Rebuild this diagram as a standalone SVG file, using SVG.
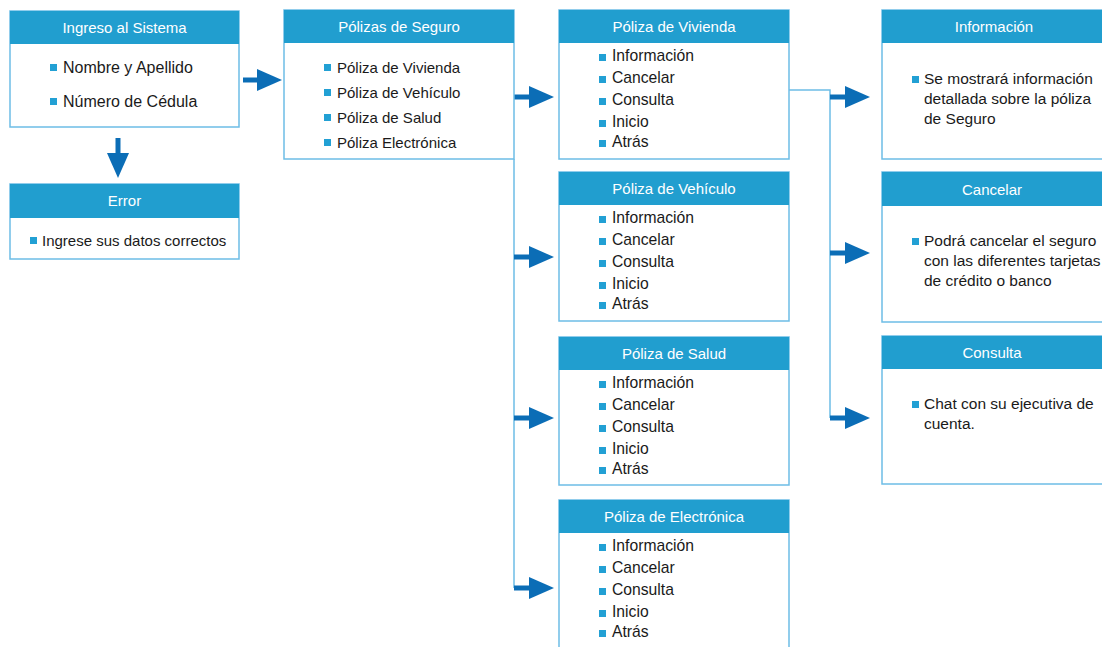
<svg xmlns="http://www.w3.org/2000/svg" width="1102" height="647" viewBox="0 0 1102 647">
<style>
.box{fill:#fff;stroke:#6dbde6;stroke-width:1.5}
.hdr{fill:#219ecf}
.ht{font-family:"Liberation Sans",Arial,sans-serif;font-size:15px;fill:#fff;text-anchor:middle}
.t{font-family:"Liberation Sans",Arial,sans-serif;font-size:15px;fill:#1a1a1a}
.t16{font-size:16px}
.tp{font-size:15.7px}
.tr{font-size:15.5px}
.b{fill:#22a0d4}
.thin{fill:none;stroke:#6dbde6;stroke-width:1.5}
.arr{fill:none;stroke:#0b6db6;stroke-width:5;marker-end:url(#ah)}
</style>
<defs>
<marker id="ah" markerUnits="userSpaceOnUse" markerWidth="26" markerHeight="24" refX="0" refY="11" orient="auto">
<path d="M0,0 L25,11 L0,22 z" fill="#0b6db6"/>
</marker>
</defs>
<rect width="1102" height="647" fill="#fff"/>

<g id="connectors">
<path class="thin" d="M514,159 V588"/>
<path class="thin" d="M789,90 H830 V418"/>
<path class="arr" d="M243,80 H257"/>
<path class="arr" d="M118,138 V153"/>
<path class="arr" d="M514,97 H529"/>
<path class="arr" d="M514,257 H529"/>
<path class="arr" d="M514,418 H529"/>
<path class="arr" d="M514,588 H529"/>
<path class="arr" d="M830,97 H845"/>
<path class="arr" d="M830,253 H845"/>
<path class="arr" d="M830,418 H845"/>
</g>

<g id="ingreso">
<rect class="box" x="10" y="11" width="229" height="116"/>
<rect class="hdr" x="10" y="11" width="229" height="33"/>
<text class="ht" x="124.5" y="33">Ingreso al Sistema</text>
<rect class="b" x="50" y="64" width="7" height="7"/><text class="t t16" x="63" y="73">Nombre y Apellido</text>
<rect class="b" x="50" y="98" width="7" height="7"/><text class="t t16" x="63" y="107">Número de Cédula</text>
</g>

<g id="error">
<rect class="box" x="10" y="184" width="229" height="75"/>
<rect class="hdr" x="10" y="184" width="229" height="34"/>
<text class="ht" x="124.5" y="206">Error</text>
<rect class="b" x="30" y="237" width="7" height="7"/><text class="t" x="42" y="246">Ingrese sus datos correctos</text>
</g>

<g id="polizas">
<rect class="box" x="284" y="10" width="230" height="149"/>
<rect class="hdr" x="284" y="10" width="230" height="33"/>
<text class="ht" x="399" y="32">Pólizas de Seguro</text>
<rect class="b" x="324" y="64" width="7" height="7"/><text class="t" x="337" y="73">Póliza de Vivienda</text>
<rect class="b" x="324" y="89" width="7" height="7"/><text class="t" x="337" y="98">Póliza de Vehículo</text>
<rect class="b" x="324" y="114" width="7" height="7"/><text class="t" x="337" y="123">Póliza de Salud</text>
<rect class="b" x="324" y="139" width="7" height="7"/><text class="t" x="337" y="148">Póliza Electrónica</text>
</g>

<g id="vivienda">
<rect class="box" x="559" y="10" width="230" height="149"/>
<rect class="hdr" x="559" y="10" width="230" height="33"/>
<text class="ht" x="674" y="32">Póliza de Vivienda</text>
<rect class="b" x="599" y="54" width="7" height="7"/><text class="t tp" x="612" y="61">Información</text>
<rect class="b" x="599" y="76" width="7" height="7"/><text class="t tp" x="612" y="83">Cancelar</text>
<rect class="b" x="599" y="98" width="7" height="7"/><text class="t tp" x="612" y="105">Consulta</text>
<rect class="b" x="599" y="120" width="7" height="7"/><text class="t tp" x="612" y="127">Inicio</text>
<rect class="b" x="599" y="140" width="7" height="7"/><text class="t tp" x="612" y="147">Atrás</text>
</g>

<g id="vehiculo">
<rect class="box" x="559" y="172" width="230" height="149"/>
<rect class="hdr" x="559" y="172" width="230" height="33"/>
<text class="ht" x="674" y="194">Póliza de Vehículo</text>
<rect class="b" x="599" y="216" width="7" height="7"/><text class="t tp" x="612" y="223">Información</text>
<rect class="b" x="599" y="238" width="7" height="7"/><text class="t tp" x="612" y="245">Cancelar</text>
<rect class="b" x="599" y="260" width="7" height="7"/><text class="t tp" x="612" y="267">Consulta</text>
<rect class="b" x="599" y="282" width="7" height="7"/><text class="t tp" x="612" y="289">Inicio</text>
<rect class="b" x="599" y="302" width="7" height="7"/><text class="t tp" x="612" y="309">Atrás</text>
</g>

<g id="salud">
<rect class="box" x="559" y="337" width="230" height="148"/>
<rect class="hdr" x="559" y="337" width="230" height="33"/>
<text class="ht" x="674" y="359">Póliza de Salud</text>
<rect class="b" x="599" y="381" width="7" height="7"/><text class="t tp" x="612" y="388">Información</text>
<rect class="b" x="599" y="403" width="7" height="7"/><text class="t tp" x="612" y="410">Cancelar</text>
<rect class="b" x="599" y="425" width="7" height="7"/><text class="t tp" x="612" y="432">Consulta</text>
<rect class="b" x="599" y="447" width="7" height="7"/><text class="t tp" x="612" y="454">Inicio</text>
<rect class="b" x="599" y="467" width="7" height="7"/><text class="t tp" x="612" y="474">Atrás</text>
</g>

<g id="electronica">
<rect class="box" x="559" y="500" width="230" height="160"/>
<rect class="hdr" x="559" y="500" width="230" height="33"/>
<text class="ht" x="674" y="522">Póliza de Electrónica</text>
<rect class="b" x="599" y="544" width="7" height="7"/><text class="t tp" x="612" y="551">Información</text>
<rect class="b" x="599" y="566" width="7" height="7"/><text class="t tp" x="612" y="573">Cancelar</text>
<rect class="b" x="599" y="588" width="7" height="7"/><text class="t tp" x="612" y="595">Consulta</text>
<rect class="b" x="599" y="610" width="7" height="7"/><text class="t tp" x="612" y="617">Inicio</text>
<rect class="b" x="599" y="630" width="7" height="7"/><text class="t tp" x="612" y="637">Atrás</text>
</g>

<g id="informacion">
<rect class="box" x="882" y="10" width="224" height="149"/>
<rect class="hdr" x="882" y="10" width="224" height="33"/>
<text class="ht" x="994" y="32">Información</text>
<rect class="b" x="912" y="76" width="7" height="7"/>
<text class="t tr" x="924" y="84">Se mostrará información</text>
<text class="t tr" x="924" y="104">detallada sobre la póliza</text>
<text class="t tr" x="924" y="124">de Seguro</text>
</g>

<g id="cancelar">
<rect class="box" x="882" y="172" width="224" height="150"/>
<rect class="hdr" x="882" y="172" width="224" height="34"/>
<text class="ht" x="992" y="195">Cancelar</text>
<rect class="b" x="912" y="238" width="7" height="7"/>
<text class="t tr" x="924" y="246">Podrá cancelar el seguro</text>
<text class="t tr" x="924" y="266">con las diferentes tarjetas</text>
<text class="t tr" x="924" y="286">de crédito o banco</text>
</g>

<g id="consulta">
<rect class="box" x="882" y="336" width="224" height="148"/>
<rect class="hdr" x="882" y="336" width="224" height="33"/>
<text class="ht" x="992" y="358">Consulta</text>
<rect class="b" x="912" y="401" width="7" height="7"/>
<text class="t tr" x="924" y="409">Chat con su ejecutiva de</text>
<text class="t tr" x="924" y="429">cuenta.</text>
</g>
</svg>
